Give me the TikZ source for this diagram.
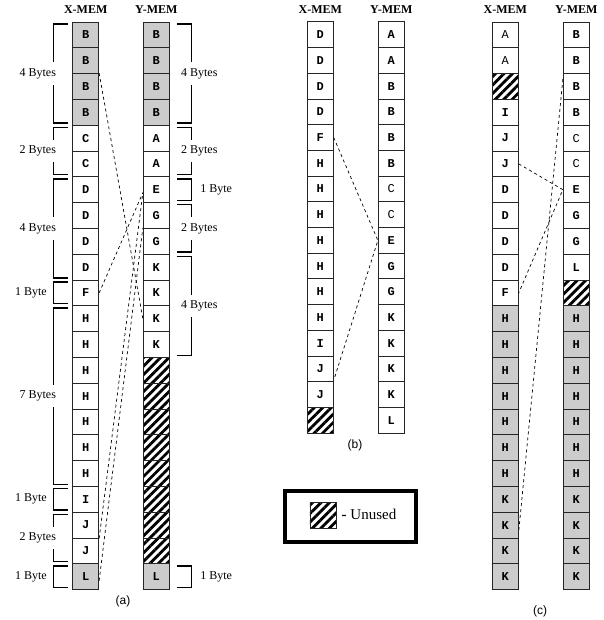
\documentclass[tikz,border=0pt]{standalone}
\usepackage{fontspec}
\setmainfont{Liberation Serif}
\newfontfamily\cellfont{Liberation Mono}
\newfontfamily\capfont{Liberation Sans}
\usetikzlibrary{calc,patterns.meta}
\definecolor{cellgray}{RGB}{204,204,204}

\begin{document}
\begin{tikzpicture}[
                    x=1pt, y=-1pt,
                    font=\fontsize{12}{14}\selectfont,
                    cell/.style={draw=black!85, line width=0.9pt, minimum width=26pt, minimum height=25.8pt, inner sep=0pt, font=\cellfont\fontsize{12}{12}\selectfont\bfseries},
                    cell g/.style={cell, fill=cellgray},
                    cell w/.style={cell, fill=white},
                    cell l/.style={cell, fill=white, font=\cellfont\fontsize{12}{12}\selectfont},
                    cell h/.style={cell, pattern={Lines[angle=45, distance=6pt, line width=2.8pt]}},
                    memtitle/.style={font=\fontsize{12}{14}\selectfont\bfseries},
                    caption/.style={font=\capfont\fontsize{12}{14}\selectfont},
                    brace/.style={line width=1.4pt},
                    bytes/.style={fill=white, inner xsep=1pt, inner ysep=6pt},
                    link/.style={dashed, line width=0.7pt}
                ]
                \useasboundingbox (0,0) rectangle (603,620);

                % Panel (a)
                \node[memtitle] (xta) at (85.7,10) {X-MEM};
                \node[memtitle] (yta) at (156.3,10) {Y-MEM};
                \foreach \t/\k [count=\i] in {B/g,B/g,B/g,B/g,C/w,C/w,D/w,D/w,D/w,D/w,F/w,H/w,H/w,H/w,H/w,H/w,H/w,H/w,I/w,J/w,J/w,L/g}
                    \node[cell \k] (xa\i) at (85.7,{9.1+\i*25.8}) {\t};
                \foreach \t/\k [count=\i] in {B/g,B/g,B/g,B/g,A/w,A/w,E/w,G/w,G/w,K/w,K/w,K/w,K/w,/h,/h,/h,/h,/h,/h,/h,/h,L/g}
                    \node[cell \k] (ya\i) at (156.3,{9.1+\i*25.8}) {\t};

                % byte counts
                \foreach \a/\b/\txt in {1/4/4 Bytes,5/6/2 Bytes,7/10/4 Bytes,12/18/7 Bytes,20/21/2 Bytes}
                    \draw[brace] ($(xa\a.north west)+(-4.5,2.5)$) -- ++(-14,0) |- ($(xa\b.south west)+(-4.5,-2.5)$)
                        node[bytes, pos=0.25, xshift=-16pt] {\txt};
                \foreach \a in {11,19,22}
                    \draw[brace] ($(xa\a.north west)+(-4.5,2.5)$) -- ++(-14,0) |- ($(xa\a.south west)+(-4.5,-2.5)$)
                        node[pos=0.25, left=3pt] {1 Byte};
                \foreach \a/\b/\txt in {1/4/4 Bytes,5/6/2 Bytes,8/9/2 Bytes,10/13/4 Bytes}
                    \draw[brace] ($(ya\a.north east)+(7.5,2.5)$) -- ++(14,0) |- ($(ya\b.south east)+(7.5,-2.5)$)
                        node[bytes, pos=0.25, xshift=8pt] {\txt};
                \foreach \a in {7,22}
                    \draw[brace] ($(ya\a.north east)+(7.5,2.5)$) -- ++(14,0) |- ($(ya\a.south east)+(7.5,-2.5)$)
                        node[pos=0.25, right=5pt] {1 Byte};

                % moves
                \draw[link] (xa3.north east) -- (ya12.west);
                \draw[link] (xa11.east) -- ($(ya7.west)+(0,3)$);
                \draw[link] (xa20.south east) -- ($(ya7.west)+(0,3)$);
                \draw[link] ($(xa22.east)+(0,4)$) -- (ya9.north west);

                \node[caption] (capa) at (123,601) {(a)};

                % Panel (b)
                \node[memtitle] (xtb) at (320.3,10) {X-MEM};
                \node[memtitle] (ytb) at (391.3,10) {Y-MEM};
                \foreach \t/\k [count=\i] in {D/w,D/w,D/w,D/w,F/w,H/w,H/w,H/w,H/w,H/w,H/w,H/w,I/w,J/w,J/w,/h}
                    \node[cell \k] (xb\i) at (320.3,{9.1+\i*25.7}) {\t};
                \foreach \t/\k [count=\i] in {A/w,A/w,B/w,B/w,B/w,B/w,C/l,C/l,E/w,G/w,G/w,K/w,K/w,K/w,K/w,L/w}
                    \node[cell \k] (yb\i) at (391.3,{9.1+\i*25.7}) {\t};

                \draw[link] (xb5.east) -- (yb9.west) -- ($(xb14.south east)+(0,-2)$);

                \node[caption] (capb) at (355,445) {(b)};

                % Panel (c)
                \node[memtitle] (xtc) at (505.3,10) {X-MEM};
                \node[memtitle] (ytc) at (576.3,10) {Y-MEM};
                \foreach \t/\k [count=\i] in {A/l,A/l,/h,I/w,J/w,J/w,D/w,D/w,D/w,D/w,F/w,H/g,H/g,H/g,H/g,H/g,H/g,H/g,K/g,K/g,K/g,K/g}
                    \node[cell \k] (xc\i) at (505.3,{9.1+\i*25.8}) {\t};
                \foreach \t/\k [count=\i] in {B/w,B/w,B/w,B/w,C/l,C/l,E/w,G/w,G/w,L/w,/h,H/g,H/g,H/g,H/g,H/g,H/g,H/g,K/g,K/g,K/g,K/g}
                    \node[cell \k] (yc\i) at (576.3,{9.1+\i*25.8}) {\t};

                \draw[link] (xc6.east) -- (yc7.west) -- (xc11.east);
                \draw[link] ($(yc3.north west)+(0,6)$) -- ($(xc20.east)+(0,6)$);

                \node[caption] (capc) at (540,611) {(c)};

                % legend
                \node[draw, line width=4pt, minimum width=130.4pt, minimum height=50.7pt] (legend) at (350.5,516.7) {};
                \node[cell h, minimum width=26.7pt, minimum height=25.6pt] (swatch) at (323.3,515.5) {};
                \node[anchor=west, inner sep=0pt, font=\fontsize{15}{15}\selectfont] (unused) at (341.5,514) {\textbf{-} Unused};

            \end{tikzpicture}
\end{document}
